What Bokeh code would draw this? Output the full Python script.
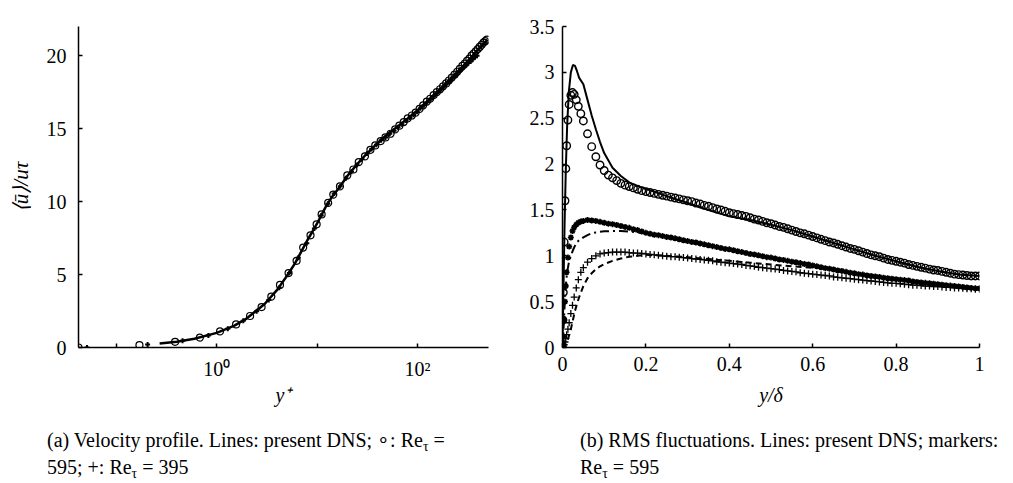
from bokeh.plotting import figure
from bokeh.models import FixedTicker, CustomJSTickFormatter, Range1d, Div
from bokeh.layouts import row, column
from bokeh.embed import file_html
from bokeh.resources import INLINE

FONT = "Liberation Serif"

# ---------------- (a) velocity profile ----------------
yp_dns = [0.27, 0.4, 0.6, 1.0, 1.5, 2.0, 3.0, 4.0, 5.0, 6.0, 7.0, 8.0, 9.0, 10, 12, 14, 17, 20, 25, 30,
          40, 50, 65, 80, 100, 140, 200, 300, 400, 500]
up_dns = [0.27, 0.4, 0.6, 1.0, 1.5, 2.0, 2.98, 3.95, 4.9, 5.75, 6.6, 7.35, 7.95, 8.5, 9.55, 10.3, 11.05,
          11.75, 12.55, 13.15, 14.0, 14.6, 15.2, 15.7, 16.25, 17.2, 18.2, 19.45, 20.4, 21.1]

yp_595 = [0.042, 0.17, 0.385, 0.68, 1.08, 1.56, 2.15, 2.8, 3.5, 4.27, 5.2, 6.25, 7.27, 8.6, 9.9, 11.1,
          12.9, 14.5, 16.9,
          20, 23, 26, 30, 34, 38, 43, 48, 54, 60, 66, 73, 80, 88, 96, 105, 114, 124, 134, 145, 156, 168,
          180, 193, 206, 220, 234, 249, 264, 280, 296, 312, 329, 346, 363, 381, 399, 417, 436, 455, 474, 493]
up_595 = [0, 0.16, 0.39, 0.68, 1.1, 1.58, 2.16, 2.77, 3.49, 4.29, 5.1, 5.94, 6.85, 7.69, 8.44, 9.12,
          9.91, 10.48, 11.04,
          11.8, 12.2, 12.7, 13.1, 13.55, 13.85, 14.15, 14.4, 14.65, 14.95, 15.2, 15.45, 15.7, 15.9, 16.1,
          16.35, 16.6, 16.85, 17.05, 17.3, 17.5, 17.7, 17.9, 18.1, 18.3, 18.5, 18.7, 18.9, 19.1, 19.3,
          19.45, 19.65, 19.8, 20.0, 20.15, 20.3, 20.45, 20.6, 20.75, 20.9, 21.0, 21.1]

yp_395 = [0.051, 0.205, 0.457, 0.826, 1.29, 1.84, 2.5, 3.3, 4.2, 5.3, 6.5, 7.9, 9.4, 11.0, 12.8, 14.8,
          17.0, 19.4, 22, 25, 28, 31.5, 35, 39, 43.5, 48, 53, 58.5, 64, 70, 77, 84, 91, 99, 107, 116,
          125, 135, 145, 156, 167, 179, 191, 204, 217, 231, 245, 260, 275, 290, 306, 322, 339, 356, 374, 392]
up_395 = [0, 0.2, 0.46, 0.82, 1.28, 1.83, 2.48, 3.25, 4.1, 5.1, 6.15, 7.15, 8.15, 9.05, 9.85, 10.55,
          11.05, 11.6, 12.05, 12.5, 12.9, 13.3, 13.6, 13.9, 14.2, 14.4, 14.65, 14.85, 15.1, 15.3, 15.55,
          15.75, 15.95, 16.15, 16.4, 16.6, 16.8, 17.0, 17.2, 17.4, 17.6, 17.8, 18.0, 18.2, 18.35, 18.55,
          18.7, 18.9, 19.05, 19.2, 19.35, 19.5, 19.6, 19.75, 19.9, 20.0]

u_ticks = [0, 5, 10, 15, 20]
yplus_ticks = [0.1, 1, 10, 100]

# ---------------- (b) RMS fluctuations ----------------
yd_dns = [0, 0.002, 0.005, 0.008, 0.011, 0.015, 0.020, 0.025, 0.030, 0.035, 0.040, 0.050, 0.060, 0.070,
          0.080, 0.090, 0.100, 0.120, 0.140, 0.160, 0.180, 0.200, 0.250, 0.300, 0.350, 0.400, 0.450,
          0.500, 0.550, 0.600, 0.650, 0.700, 0.750, 0.800, 0.850, 0.900, 0.950, 1.000]
urms_dns = [0, 0.55, 1.35, 1.95, 2.40, 2.78, 3.00, 3.08, 3.07, 3.01, 2.94, 2.87, 2.70, 2.53, 2.38, 2.24,
            2.12, 1.96, 1.87, 1.80, 1.76, 1.73, 1.65, 1.575, 1.50, 1.43, 1.39, 1.34, 1.28, 1.21, 1.14,
            1.07, 1.00, 0.94, 0.88, 0.835, 0.795, 0.78]
wrms_dns = [0, 0.15, 0.45, 0.68, 0.82, 0.92, 1.00, 1.06, 1.11, 1.15, 1.17, 1.20, 1.225, 1.245, 1.255,
            1.262, 1.267, 1.27, 1.27, 1.265, 1.255, 1.245, 1.205, 1.16, 1.115, 1.07, 1.02, 0.98, 0.935,
            0.895, 0.85, 0.81, 0.775, 0.745, 0.715, 0.69, 0.665, 0.645]
vrms_dns = [0, 0.0, 0.01, 0.03, 0.06, 0.12, 0.20, 0.30, 0.40, 0.48, 0.55, 0.67, 0.755, 0.81, 0.855, 0.885,
            0.91, 0.945, 0.97, 0.99, 1.0, 1.01, 1.0, 0.985, 0.965, 0.945, 0.925, 0.905, 0.885, 0.87, 0.86,
            0.815, 0.775, 0.74, 0.71, 0.68, 0.655, 0.63]

yd_595 = [0.001, 0.002, 0.004, 0.006, 0.008, 0.010, 0.013, 0.016, 0.020, 0.024, 0.028, 0.033, 0.038, 0.044,
          0.05, 0.06, 0.07, 0.08, 0.09, 0.10, 0.11, 0.12, 0.13, 0.14, 0.15, 0.16, 0.17, 0.18, 0.19, 0.20,
          0.21, 0.22, 0.23, 0.24, 0.25, 0.26, 0.27, 0.28, 0.29, 0.30,
          0.31, 0.32, 0.33, 0.34, 0.35, 0.36, 0.37, 0.38, 0.39, 0.40,
          0.41, 0.42, 0.43, 0.44, 0.45, 0.46, 0.47, 0.48, 0.49, 0.50,
          0.51, 0.52, 0.53, 0.54, 0.55, 0.56, 0.57, 0.58, 0.59, 0.60,
          0.61, 0.62, 0.63, 0.64, 0.65, 0.66, 0.67, 0.68, 0.69, 0.70,
          0.71, 0.72, 0.73, 0.74, 0.75, 0.76, 0.77, 0.78, 0.79, 0.80,
          0.81, 0.82, 0.83, 0.84, 0.85, 0.86, 0.87, 0.88, 0.89, 0.90,
          0.91, 0.92, 0.93, 0.94, 0.95, 0.96, 0.97, 0.98, 0.99, 1.00]
urms_595 = [0.30, 0.60, 1.15, 1.60, 1.95, 2.20, 2.48, 2.65, 2.75, 2.78, 2.76, 2.70, 2.63, 2.55,
            2.47, 2.33, 2.19, 2.08, 1.99, 1.93, 1.88, 1.85, 1.82, 1.79, 1.77, 1.755, 1.74, 1.725, 1.71, 1.70,
            1.69, 1.68, 1.67, 1.66, 1.65, 1.64, 1.63, 1.62, 1.61, 1.60,
            1.59, 1.575, 1.565, 1.55, 1.54, 1.525, 1.51, 1.50, 1.485, 1.47,
            1.46, 1.45, 1.44, 1.43, 1.415, 1.40, 1.39, 1.375, 1.36, 1.35,
            1.335, 1.32, 1.31, 1.295, 1.28, 1.265, 1.25, 1.24, 1.225, 1.21,
            1.195, 1.18, 1.165, 1.15, 1.14, 1.125, 1.11, 1.095, 1.08, 1.07,
            1.055, 1.04, 1.025, 1.01, 1.00, 0.99, 0.975, 0.96, 0.95, 0.94,
            0.93, 0.92, 0.905, 0.895, 0.885, 0.875, 0.865, 0.855, 0.845, 0.84,
            0.83, 0.82, 0.81, 0.80, 0.795, 0.79, 0.785, 0.78, 0.78, 0.78]
wrms_595 = [0.05, 0.12, 0.30, 0.50, 0.67, 0.82, 0.98, 1.10, 1.20, 1.27, 1.31, 1.34, 1.36, 1.375,
            1.38, 1.39, 1.385, 1.38, 1.37, 1.36, 1.35, 1.345, 1.335, 1.325, 1.315, 1.305, 1.29, 1.28, 1.265, 1.25,
            1.24, 1.23, 1.225, 1.215, 1.205, 1.20, 1.19, 1.18, 1.17, 1.16,
            1.15, 1.145, 1.135, 1.125, 1.115, 1.105, 1.095, 1.085, 1.075, 1.07,
            1.06, 1.05, 1.04, 1.03, 1.02, 1.015, 1.005, 0.995, 0.985, 0.98,
            0.97, 0.96, 0.955, 0.945, 0.935, 0.93, 0.92, 0.91, 0.905, 0.895,
            0.885, 0.875, 0.865, 0.86, 0.85, 0.84, 0.835, 0.825, 0.815, 0.81,
            0.80, 0.795, 0.785, 0.78, 0.775, 0.77, 0.76, 0.755, 0.75, 0.745,
            0.74, 0.735, 0.73, 0.72, 0.715, 0.71, 0.705, 0.70, 0.695, 0.69,
            0.685, 0.68, 0.675, 0.67, 0.665, 0.66, 0.655, 0.65, 0.645, 0.645]
vrms_595 = [0.00, 0.01, 0.03, 0.06, 0.10, 0.14, 0.20, 0.27, 0.37, 0.46, 0.55, 0.65, 0.74, 0.82,
            0.87, 0.93, 0.97, 1.00, 1.02, 1.03, 1.035, 1.04, 1.04, 1.04, 1.04, 1.035, 1.03, 1.03, 1.025, 1.02,
            1.015, 1.01, 1.005, 1.0, 0.995, 0.99, 0.99, 0.985, 0.98, 0.975,
            0.97, 0.965, 0.96, 0.955, 0.95, 0.945, 0.935, 0.93, 0.925, 0.92,
            0.915, 0.91, 0.905, 0.895, 0.89, 0.885, 0.875, 0.87, 0.865, 0.86,
            0.855, 0.85, 0.84, 0.835, 0.83, 0.825, 0.815, 0.81, 0.805, 0.80,
            0.795, 0.79, 0.785, 0.78, 0.77, 0.765, 0.76, 0.755, 0.75, 0.745,
            0.74, 0.735, 0.73, 0.725, 0.72, 0.715, 0.71, 0.705, 0.70, 0.70,
            0.695, 0.69, 0.685, 0.68, 0.68, 0.675, 0.67, 0.67, 0.665, 0.665,
            0.66, 0.655, 0.655, 0.65, 0.65, 0.645, 0.64, 0.64, 0.635, 0.635]

rms_ticks = [0, 0.5, 1, 1.5, 2, 2.5, 3, 3.5]
yd_ticks = [0, 0.2, 0.4, 0.6, 0.8, 1.0]

caption_a = "(a) Velocity profile. Lines: present DNS; ∘: Re<sub>τ</sub> =<br>595; +: Re<sub>τ</sub> = 395"
caption_b = "(b) RMS fluctuations. Lines: present DNS; markers:<br>Re<sub>τ</sub> = 595"

assert len(yp_dns) == len(up_dns) and len(yp_595) == len(up_595) and len(yp_395) == len(up_395)
assert len(yd_dns) == len(urms_dns) == len(wrms_dns) == len(vrms_dns)
assert len(yd_595) == len(urms_595) == len(wrms_595) == len(vrms_595)

num_fmt = CustomJSTickFormatter(code="return String(Math.round(tick*10)/10);")
log_fmt = CustomJSTickFormatter(code="""
if (Math.abs(tick - 1) < 1e-9) { return "10\u2070"; }
if (Math.abs(tick - 100) < 1e-6) { return "10\u00b2"; }
return "";
""")


def style(p):
    p.outline_line_color = None
    p.xgrid.visible = False
    p.ygrid.visible = False
    p.background_fill_color = "white"
    p.border_fill_color = "white"
    for ax in (p.xaxis[0], p.yaxis[0]):
        ax.axis_line_color = "black"
        ax.axis_line_width = 1.5
        ax.major_tick_line_color = "black"
        ax.major_tick_line_width = 1.5
        ax.major_tick_in = 4
        ax.major_tick_out = 0
        ax.minor_tick_line_color = None
        ax.major_label_text_font = FONT
        ax.major_label_text_font_size = "20px"
        ax.major_label_text_color = "black"
        ax.axis_label_text_font = FONT
        ax.axis_label_text_font_size = "20px"
        ax.axis_label_text_font_style = "italic"
        ax.axis_label_text_color = "black"


# ---- left figure (page x 0..505)
p1 = figure(width=505, height=426, x_axis_type="log",
            x_range=Range1d(0.042, 510), y_range=Range1d(0, 22),
            output_backend="svg", toolbar_location=None,
            min_border_left=78, min_border_right=17, min_border_top=26, min_border_bottom=77)
style(p1)
p1.xaxis.ticker = FixedTicker(ticks=yplus_ticks)
p1.xaxis.formatter = log_fmt
p1.yaxis.ticker = FixedTicker(ticks=u_ticks)
p1.yaxis.formatter = num_fmt
p1.yaxis.major_label_standoff = 12
p1.xaxis.major_label_standoff = 10
p1.xaxis.axis_label = "y\u207a"
p1.yaxis.axis_label = "\u27e8\u016b\u27e9/u\u03c4"
p1.yaxis.axis_label_text_font_size = "21px"
p1.xaxis.axis_label_standoff = 1
p1.yaxis.axis_label_standoff = 11

p1.line(yp_dns, up_dns, line_color="black", line_width=2.5)
p1.scatter(yp_595, up_595, marker="circle", size=7, line_color="black", fill_color=None, line_width=1.2)
p1.scatter(yp_395, up_395, marker="cross", size=5, line_color="black", line_width=2)

# ---- right figure (page x 505..1005)
p2 = figure(width=500, height=426,
            x_range=Range1d(0, 1), y_range=Range1d(0, 3.5),
            output_backend="svg", toolbar_location=None,
            min_border_left=57, min_border_right=26, min_border_top=18, min_border_bottom=79)
style(p2)
p2.xaxis.ticker = FixedTicker(ticks=yd_ticks)
p2.xaxis.formatter = num_fmt
p2.yaxis.ticker = FixedTicker(ticks=rms_ticks)
p2.yaxis.formatter = num_fmt
p2.yaxis.major_label_standoff = 8
p2.xaxis.major_label_standoff = 9
p2.xaxis.axis_label = "y/\u03b4"
p2.xaxis.axis_label_standoff = 10

p2.line(yd_dns, urms_dns, line_color="black", line_width=2)
p2.line(yd_dns, wrms_dns, line_color="black", line_width=2, line_dash="9 4 2 4")
p2.line(yd_dns, vrms_dns, line_color="black", line_width=2, line_dash="6 4")
p2.scatter(yd_595, urms_595, marker="circle", size=7.5, line_color="black", fill_color=None, line_width=1.4)
p2.scatter(yd_595, wrms_595, marker="asterisk", size=6, line_color="black", line_width=1.6)
p2.scatter(yd_595, vrms_595, marker="cross", size=7, line_color="black", line_width=1.3)

# ---- captions
sub = '<sub style="font-size:14px; vertical-align:-4px; line-height:0">'
inner = ("<div style=\"font-family:'Liberation Serif','Times New Roman',serif; font-size:20px; "
         "line-height:27px; color:black; white-space:nowrap; margin:0; padding:1px 0 0 {pad}px\">{txt}</div>")
d1 = Div(text=inner.format(pad=47, txt=caption_a.replace("<sub>", sub)),
         width=505, height=49, margin=0)
d2 = Div(text=inner.format(pad=75, txt=caption_b.replace("<sub>", sub)),
         width=500, height=49, margin=0)

layout = column(row(p1, p2), row(d1, d2))

with open("out.html", "w", encoding="utf-8") as f:
    f.write(file_html(layout, INLINE, title="Velocity and RMS profiles"))
